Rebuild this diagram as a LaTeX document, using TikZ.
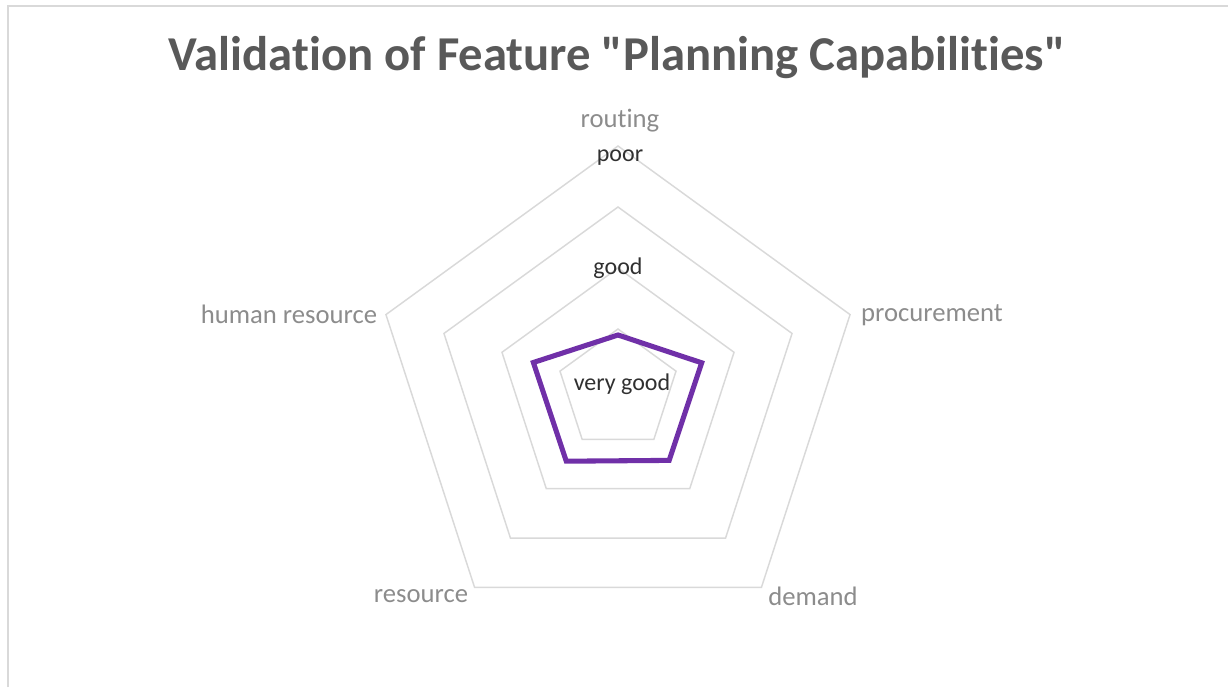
\documentclass[tikz,border=0pt]{standalone}
\usepackage{fontspec}
\setmainfont[Ligatures=NoCommon]{Carlito}
\definecolor{framegray}{HTML}{D9D9D9}
\definecolor{gridgray}{HTML}{D9D9D9}
\definecolor{titlegray}{HTML}{595959}
\definecolor{catgray}{HTML}{8C8C8C}
\definecolor{tickgray}{HTML}{303030}
\definecolor{datapurple}{HTML}{7030A8}
\begin{document}
\begin{tikzpicture}[x=0.75pt,y=0.75pt,
  grid/.style={draw=gridgray, line width=1.1pt},
  catlabel/.style={text=catgray, font=\fontsize{20}{24}\selectfont},
  ticklabel/.style={text=tickgray, font=\fontsize{18}{20}\selectfont, inner sep=0pt},
  series/.style={draw=datapurple, line width=3.8pt, line join=miter}]
  \useasboundingbox (0,0) rectangle (1228,687);

  % Chart frame
  \draw[framegray, line width=1.5pt] (8,0) -- (8,681) -- (1228,681);

  % Title
  \node[text=titlegray, font=\bfseries\fontsize{36.5}{40}\selectfont] (title) at (617,629)
    {Validation of Feature \textquotedbl Planning Capabilities\textquotedbl};

  \begin{scope}[shift={(618,297)}]
    % Grid rings
    \foreach \r in {1,...,4}
      \draw[grid] (90:\r*61) -- (18:\r*61) -- (-54:\r*61) -- (-126:\r*61) -- (162:\r*61) -- cycle;

    % Data series
    \draw[series] (90:55) -- (18:88) -- (-54:87) -- (-126:88) -- (162:89) -- cycle;

    % Axis value labels
    \node[ticklabel] (poor) at (2,232) {poor};
    \node[ticklabel] (good) at (0,122) {good};
    \node[ticklabel] (verygood) at (4,6) {very good};

    % Category labels
    \node[catlabel] (routing) at (2,269) {routing};
    \node[catlabel] (procurement) at (314,75) {procurement};
    \node[catlabel] (demand) at (195,-206) {demand};
    \node[catlabel] (resource) at (-197,-206) {resource};
    \node[catlabel] (humanres) at (-329,76) {human resource};
  \end{scope}
\end{tikzpicture}
\end{document}
